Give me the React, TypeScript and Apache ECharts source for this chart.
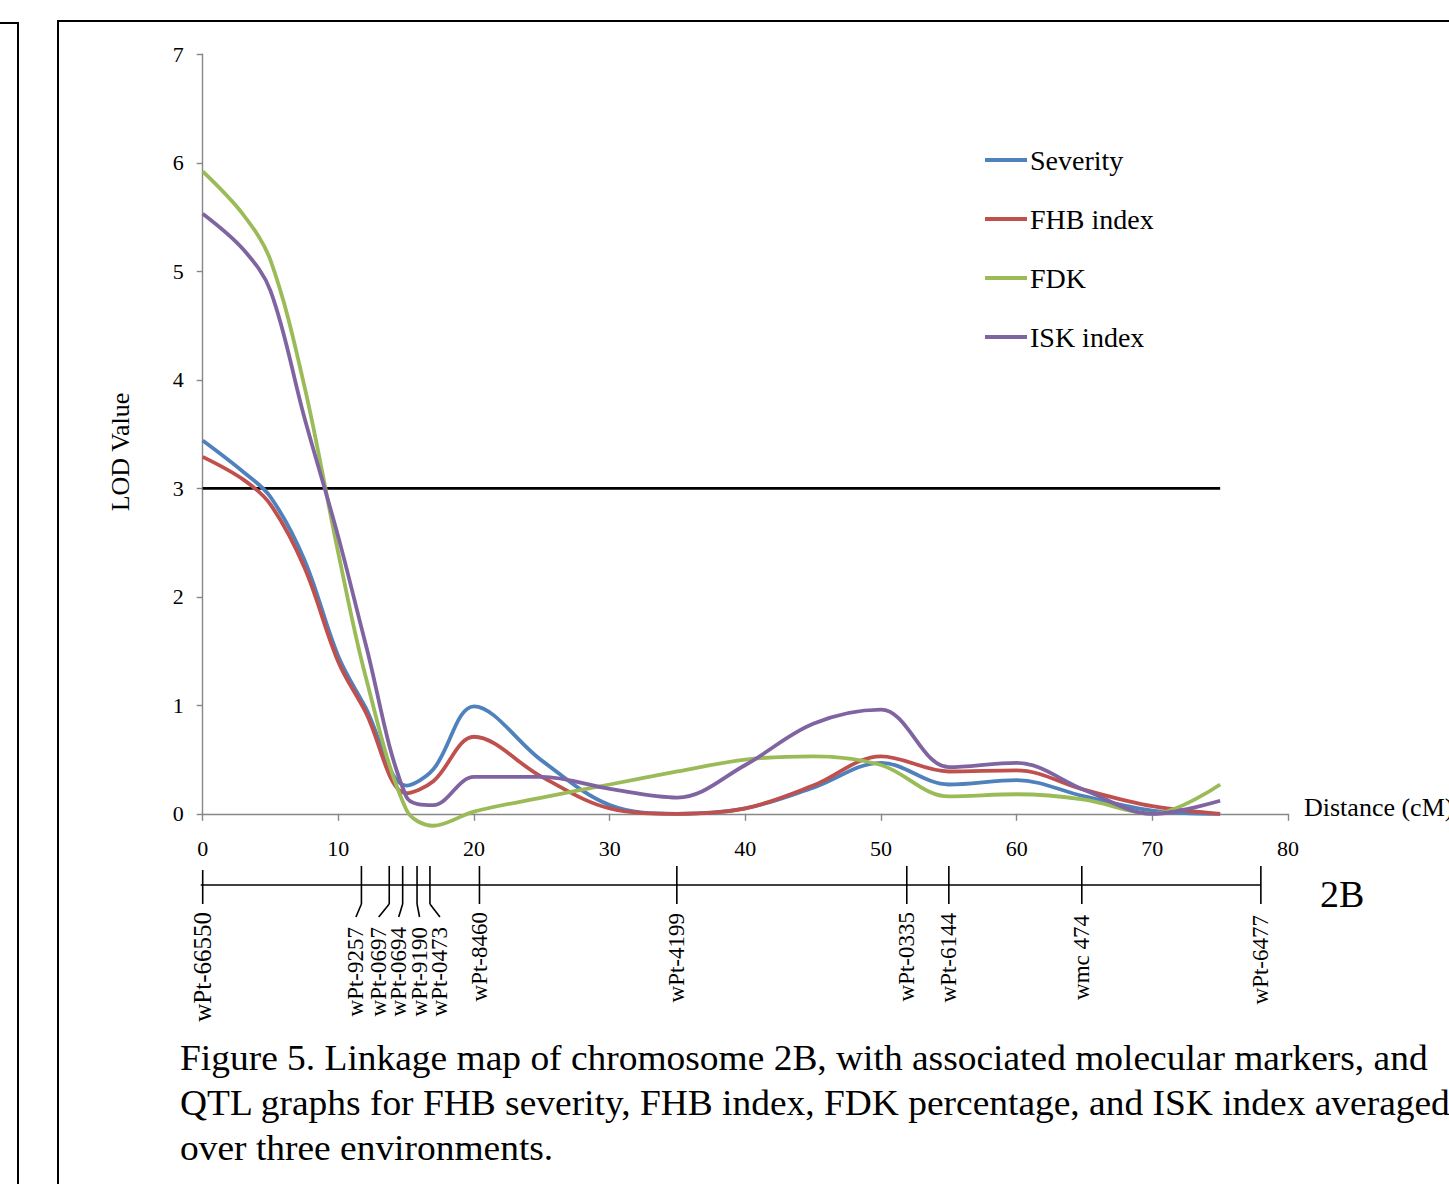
import React, { useEffect, useRef } from "react";
import * as echarts from "echarts";

// ---- Data ----
const distance = [0, 3, 5, 7.5, 10, 12, 15, 17, 20, 25, 30, 35, 40, 45, 50, 55, 60, 65, 70, 75];
const severity = [3.44, 3.15, 2.92, 2.34, 1.45, 0.98, 0.26, 0.41, 0.99, 0.49, 0.08, 0.0, 0.05, 0.24, 0.47, 0.27, 0.31, 0.16, 0.03, 0.0];
const fhbIndex = [3.29, 3.08, 2.85, 2.27, 1.4, 0.94, 0.19, 0.3, 0.71, 0.34, 0.05, 0.0, 0.05, 0.26, 0.53, 0.39, 0.4, 0.22, 0.07, 0.0];
const fdk = [5.92, 5.52, 5.1, 3.94, 2.4, 1.27, 0.04, -0.11, 0.02, 0.15, 0.27, 0.39, 0.5, 0.53, 0.45, 0.16, 0.18, 0.13, 0.0, 0.27];
const iskIndex = [5.53, 5.2, 4.82, 3.65, 2.55, 1.57, 0.16, 0.08, 0.34, 0.34, 0.23, 0.15, 0.45, 0.83, 0.96, 0.43, 0.47, 0.22, 0.0, 0.12];
const lodThreshold = 3;
const thresholdRange = [0, 75];

const xTicks = { min: 0, max: 80, interval: 10 };
const yTicks = { min: 0, max: 7, interval: 1 };

const markerNames = [
  "wPt-66550", "wPt-9257", "wPt-0697", "wPt-0694", "wPt-9190", "wPt-0473",
  "wPt-8460", "wPt-4199", "wPt-0335", "wPt-6144", "wmc 474", "wPt-6477",
];
const markerPos = [0, 11.7, 13.75, 14.74, 15.8, 16.75, 20.4, 34.95, 51.9, 55.0, 64.8, 78.0];

// ---- Layout (pixels) ----
const labelDx = [0, -5.5, -10.5, -4, 2.5, 10, 0, 0, 0, 0, 0, 0];
const labelTop = [912, 927, 927, 927, 927, 927, 912, 913, 912, 913, 915, 915];
const labelSize = [25, 23, 23, 23, 23, 23, 23, 23, 23, 23, 23, 23];

const FONT = '"Liberation Serif", "Times New Roman", Times, serif';
const COLORS = ["#4F81BD", "#C0504D", "#9BBB59", "#8064A2"];

export default function App() {
  const ref = useRef<HTMLDivElement>(null);

  useEffect(() => {
    const chart = echarts.init(ref.current!, null, { renderer: "svg" });

    const defs = [
      { name: "Severity", values: severity },
      { name: "FHB index", values: fhbIndex },
      { name: "FDK", values: fdk },
      { name: "ISK index", values: iskIndex },
    ];

    const axisLineStyle = { color: "#878787", width: 1.4 };
    const maxMarker = Math.max(...markerPos);

    const lineSeries = defs.map((d, k) => ({
      name: d.name,
      type: "line",
      xAxisIndex: 0,
      yAxisIndex: 0,
      data: distance.map((x, i) => [x, d.values[i]]),
      smooth: 0.35,
      clip: false,
      showSymbol: false,
      symbol: "none",
      lineStyle: { color: COLORS[k], width: 3.8 },
      itemStyle: { color: COLORS[k] },
      z: 3,
    }));

    const captionStyle = { fontFamily: FONT, fontSize: 35, fill: "#000", align: "left", verticalAlign: "middle" };

    const option: any = {
      animation: false,
      backgroundColor: "#ffffff",
      grid: [
        { left: 202.7, right: 161, top: 54.3, bottom: 370.2 },
        { left: 202.7, right: 161, top: 860, height: 50 },
      ],
      legend: {
        orient: "vertical",
        left: 985,
        top: 146,
        padding: 0,
        itemWidth: 42,
        itemHeight: 4,
        itemGap: 31,
        icon: "rect",
        data: defs.map((d) => d.name),
        textStyle: { fontFamily: FONT, fontSize: 28, color: "#000", padding: [0, 0, 0, -2] },
      },
      xAxis: [
        {
          type: "value",
          gridIndex: 0,
          min: xTicks.min,
          max: xTicks.max,
          interval: xTicks.interval,
          axisLine: { show: true, onZero: false, lineStyle: axisLineStyle },
          axisTick: { show: true, inside: false, length: 7, lineStyle: axisLineStyle },
          axisLabel: { color: "#000", fontFamily: FONT, fontSize: 22, margin: 24 },
          splitLine: { show: false },
        },
        { type: "value", gridIndex: 1, min: xTicks.min, max: xTicks.max, show: false },
      ],
      yAxis: [
        {
          type: "value",
          gridIndex: 0,
          min: yTicks.min,
          max: yTicks.max,
          interval: yTicks.interval,
          axisLine: { show: true, lineStyle: axisLineStyle },
          axisTick: { show: true, inside: false, length: 6, lineStyle: axisLineStyle },
          axisLabel: { color: "#000", fontFamily: FONT, fontSize: 22, margin: 19 },
          splitLine: { show: false },
        },
        { type: "value", gridIndex: 1, min: 0, max: 1, show: false },
      ],
      series: [
        {
          name: "LOD threshold",
          type: "line",
          xAxisIndex: 0,
          yAxisIndex: 0,
          data: thresholdRange.map((x) => [x, lodThreshold]),
          showSymbol: false,
          symbol: "none",
          lineStyle: { color: "#000", width: 2.8 },
          z: 2,
        },
        ...lineSeries,
        {
          name: "markers",
          type: "custom",
          xAxisIndex: 1,
          yAxisIndex: 1,
          silent: true,
          data: markerPos.map((p) => [p, 0]),
          renderItem: (params: any, api: any) => {
            const i = params.dataIndex;
            const x = api.coord([api.value(0), 0])[0];
            const dx = labelDx[i];
            const stroke = { stroke: "#000", lineWidth: 1.6 };
            const children: any[] = [];
            if (i === 0) {
              const xEnd = api.coord([maxMarker, 0])[0];
              children.push({ type: "line", shape: { x1: x - 2, y1: 885, x2: xEnd, y2: 885 }, style: stroke });
            }
            children.push({
              type: "line",
              shape: { x1: x, y1: i === 0 ? 870 : 866, x2: x, y2: 904 },
              style: stroke,
            });
            if (dx !== 0) {
              children.push({ type: "line", shape: { x1: x, y1: 904, x2: x + dx, y2: 917 }, style: stroke });
            }
            children.push({
              type: "text",
              x: x + dx,
              y: labelTop[i],
              rotation: Math.PI / 2,
              style: {
                text: markerNames[i],
                fontFamily: FONT,
                fontSize: labelSize[i],
                fill: "#000",
                align: "right",
                verticalAlign: "middle",
              },
            });
            return { type: "group", children };
          },
          z: 4,
        },
      ],
      graphic: [
        // frames
        { type: "line", shape: { x1: 0, y1: 23, x2: 19, y2: 23 }, style: { stroke: "#000", lineWidth: 2 } },
        { type: "line", shape: { x1: 18, y1: 22, x2: 18, y2: 1184 }, style: { stroke: "#000", lineWidth: 2 } },
        { type: "line", shape: { x1: 57, y1: 21, x2: 1449, y2: 21 }, style: { stroke: "#000", lineWidth: 2 } },
        { type: "line", shape: { x1: 58, y1: 20, x2: 58, y2: 1184 }, style: { stroke: "#000", lineWidth: 2 } },
        {
          type: "text",
          x: 120,
          y: 452,
          rotation: Math.PI / 2,
          style: { text: "LOD Value", fontFamily: FONT, fontSize: 26, fill: "#000", align: "center", verticalAlign: "middle" },
        },
        {
          type: "text",
          x: 1304,
          y: 807,
          style: { text: "Distance (cM)", fontFamily: FONT, fontSize: 26, fill: "#000", align: "left", verticalAlign: "middle" },
        },
        {
          type: "text",
          x: 1320,
          y: 894,
          style: { text: "2B", fontFamily: FONT, fontSize: 38, fill: "#000", align: "left", verticalAlign: "middle" },
        },
        {
          type: "text",
          x: 180,
          y: 1058,
          scaleX: 1.07,
          style: { ...captionStyle, text: "Figure 5. Linkage map of chromosome 2B, with associated molecular markers, and" },
        },
        {
          type: "text",
          x: 180,
          y: 1103,
          scaleX: 1.07,
          style: { ...captionStyle, text: "QTL graphs for FHB severity, FHB index, FDK percentage, and ISK index averaged" },
        },
        {
          type: "text",
          x: 180,
          y: 1148,
          scaleX: 1.07,
          style: { ...captionStyle, text: "over three environments." },
        },
      ],
    };

    chart.setOption(option);
    return () => chart.dispose();
  }, []);

  return (
    <div
      ref={ref}
      style={{ position: "absolute", left: 0, top: 0, width: 1449, height: 1184, background: "#fff" }}
    />
  );
}
